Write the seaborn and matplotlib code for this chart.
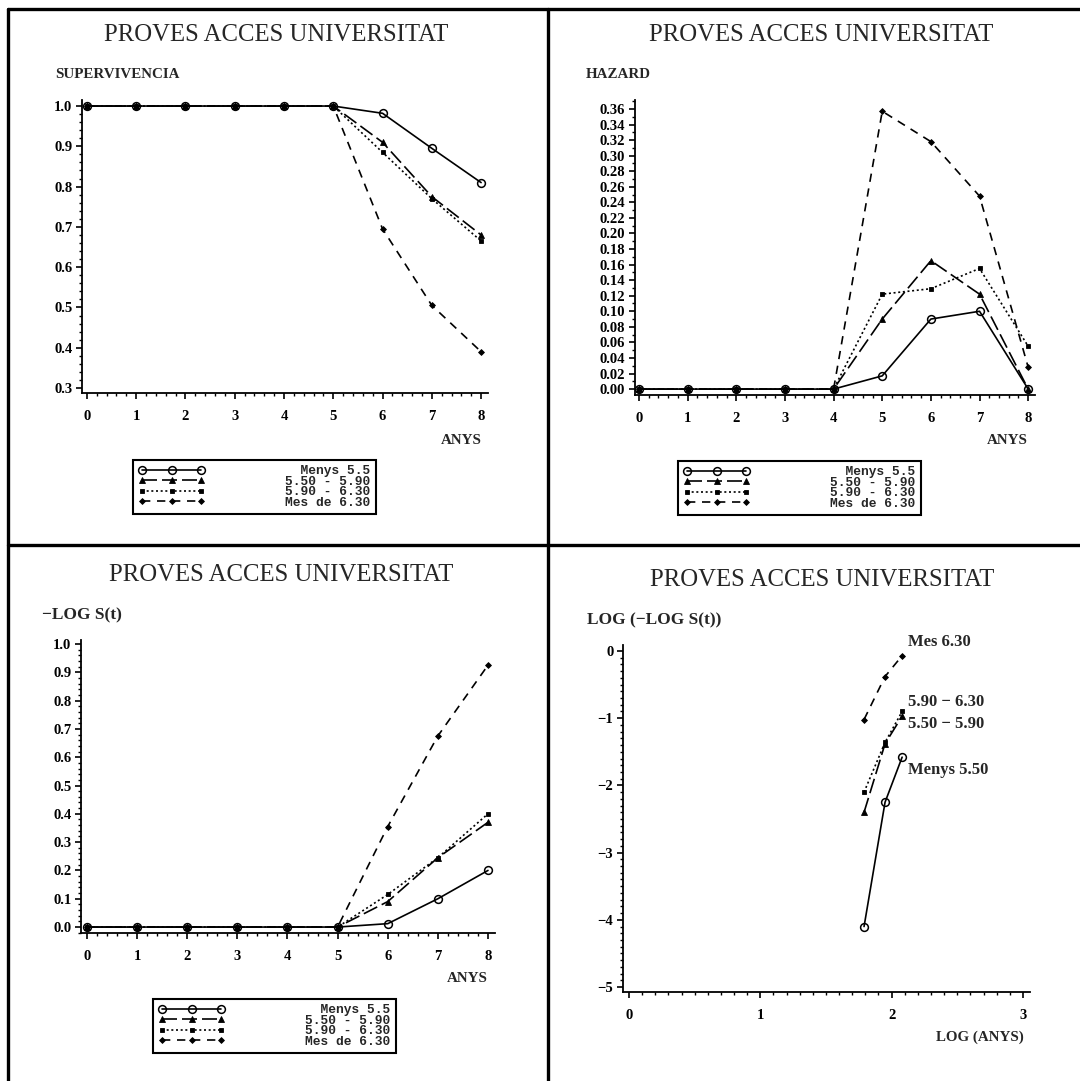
import matplotlib
matplotlib.use("Agg")
import matplotlib.pyplot as plt
import seaborn as sns
from matplotlib.ticker import MultipleLocator, AutoMinorLocator, FormatStrFormatter
from matplotlib.lines import Line2D
from matplotlib.font_manager import FontProperties

# ---------------- data ----------------
anys = [0, 1, 2, 3, 4, 5, 6, 7, 8]
groups = ["Menys 5.5", "5.50 - 5.90", "5.90 - 6.30", "Mes de 6.30"]
legend_labels = ["  Menys 5.5", "5.50 - 5.90", "5.90 - 6.30", "Mes de 6.30"]
end_labels = ["Menys 5.50", "5.50 \u2212 5.90", "5.90 \u2212 6.30", "Mes 6.30"]

surv_menys = [1.0, 1.0, 1.0, 1.0, 1.0, 1.0, 0.982, 0.895, 0.810]
surv_550 = [1.0, 1.0, 1.0, 1.0, 1.0, 1.0, 0.910, 0.775, 0.680]
surv_590 = [1.0, 1.0, 1.0, 1.0, 1.0, 1.0, 0.885, 0.770, 0.665]
surv_mes = [1.0, 1.0, 1.0, 1.0, 1.0, 1.0, 0.695, 0.505, 0.390]

haz_menys = [0.0, 0.0, 0.0, 0.0, 0.0, 0.017, 0.090, 0.100, 0.000]
haz_550 = [0.0, 0.0, 0.0, 0.0, 0.0, 0.090, 0.165, 0.122, 0.000]
haz_590 = [0.0, 0.0, 0.0, 0.0, 0.0, 0.122, 0.129, 0.155, 0.055]
haz_mes = [0.0, 0.0, 0.0, 0.0, 0.0, 0.357, 0.318, 0.248, 0.028]

mlog_menys = [0.0, 0.0, 0.0, 0.0, 0.0, 0.0, 0.012, 0.100, 0.200]
mlog_550 = [0.0, 0.0, 0.0, 0.0, 0.0, 0.0, 0.090, 0.245, 0.370]
mlog_590 = [0.0, 0.0, 0.0, 0.0, 0.0, 0.0, 0.115, 0.245, 0.400]
mlog_mes = [0.0, 0.0, 0.0, 0.0, 0.0, 0.0, 0.355, 0.675, 0.925]

log_anys = [1.79, 1.95, 2.08]
llog_menys = [-4.10, -2.25, -1.58]
llog_550 = [-2.40, -1.38, -0.97]
llog_590 = [-2.10, -1.36, -0.90]
llog_mes = [-1.02, -0.38, -0.07]

# ---------------- style ----------------
sns.set_theme(style="ticks")
plt.rcParams["font.family"] = ["Liberation Serif", "DejaVu Serif"]
plt.rcParams["axes.linewidth"] = 1.3
plt.rcParams["xtick.major.width"] = 1.2
plt.rcParams["ytick.major.width"] = 1.2
plt.rcParams["xtick.minor.width"] = 1.0
plt.rcParams["ytick.minor.width"] = 1.0
plt.rcParams["xtick.major.size"] = 4
plt.rcParams["ytick.major.size"] = 4
plt.rcParams["xtick.minor.size"] = 2.2
plt.rcParams["ytick.minor.size"] = 2.2
plt.rcParams["axes.edgecolor"] = "black"
plt.rcParams["xtick.color"] = "black"
plt.rcParams["ytick.color"] = "black"

W, H = 1080, 1081
fig = plt.figure(figsize=(W / 100, H / 100), dpi=100)
fig.patch.set_facecolor("white")


def fx(px):
    return px / W


def fy(py):
    return 1 - py / H


def make_ax(l, r, t, b):
    return fig.add_axes([fx(l), fy(b), fx(r) - fx(l), fy(t) - fy(b)])


series_style = [
    dict(linestyle="-", marker="o", markersize=5.6, markerfacecolor="none", markeredgewidth=1.1),
    dict(linestyle=(0, (9, 3)), marker="^", markersize=3.8, markerfacecolor="black", markeredgewidth=0.6),
    dict(linestyle=(0, (1.2, 1.6)), marker="s", markersize=3.4, markerfacecolor="black", markeredgewidth=0.6),
    dict(linestyle=(0, (5, 4)), marker="D", markersize=3.0, markerfacecolor="black", markeredgewidth=0.6),
]


def draw_series(ax, x, ys):
    lines = []
    for y, st in zip(ys, series_style):
        sns.lineplot(x=x, y=y, ax=ax, color="black", linewidth=1.2,
                     markeredgecolor="black", **st)
        lines.append(ax.get_lines()[-1])
    return lines


tick_font = dict(family=["Liberation Serif", "DejaVu Serif"], weight="bold", size=10.5)


def style_ax(ax, xlim, ylim, ymajor, yminor_n, xminor_n, fmt):
    sns.despine(ax=ax)
    ax.set_xlim(*xlim)
    ax.set_ylim(*ylim)
    ax.xaxis.set_major_locator(MultipleLocator(1))
    ax.xaxis.set_minor_locator(AutoMinorLocator(xminor_n))
    ax.yaxis.set_major_locator(MultipleLocator(ymajor))
    ax.yaxis.set_minor_locator(AutoMinorLocator(yminor_n))
    ax.yaxis.set_major_formatter(FormatStrFormatter(fmt))
    ax.tick_params(which="both", direction="out")
    ax.tick_params(axis="x", which="major", pad=8)
    ax.tick_params(axis="y", which="major", pad=3)
    for lab in ax.get_xticklabels() + ax.get_yticklabels():
        lab.set_fontproperties(FontProperties(**tick_font))
    ax.set_xlabel("")
    ax.set_ylabel("")
    ax.set_facecolor("white")


def add_legend(ax, lines, left, top):
    leg = ax.legend(lines, legend_labels, loc="upper left",
                    bbox_to_anchor=(fx(left), fy(top)), bbox_transform=fig.transFigure,
                    numpoints=3, handlelength=5.2, handletextpad=6.2,
                    labelspacing=-0.12, borderpad=0.4, borderaxespad=0,
                    frameon=True, fancybox=False, framealpha=1,
                    prop=FontProperties(family="Liberation Mono", weight="bold", size=9.3))
    fr = leg.get_frame()
    fr.set_edgecolor("black")
    fr.set_linewidth(1.5)
    return leg


title_kw = dict(family=["Liberation Serif", "DejaVu Serif"], size=17.8, ha="center", va="center")
sub_kw = dict(family=["Liberation Serif", "DejaVu Serif"], size=10.8, weight="bold", va="center")

# ---------------- panel 1: survival ----------------
ax1 = make_ax(82, 488, 100, 393)
l1 = draw_series(ax1, anys, [surv_menys, surv_550, surv_590, surv_mes])
style_ax(ax1, (-0.10, 8.14), (0.2876, 1.015), 0.1, 5, 5, "%.1f")
add_legend(ax1, l1, 133, 460)
fig.text(fx(276), fy(35), "PROVES ACCES UNIVERSITAT", **title_kw)
fig.text(fx(55), fy(75), "SUPERVIVENCIA", ha="left", **sub_kw)
fig.text(fx(482), fy(440), "ANYS", ha="right", **sub_kw)

# ---------------- panel 2: hazard ----------------
ax2 = make_ax(635, 1035, 100, 395)
l2 = draw_series(ax2, anys, [haz_menys, haz_550, haz_590, haz_mes])
style_ax(ax2, (-0.082, 8.14), (-0.0076, 0.3715), 0.02, 2, 5, "%.2f")
add_legend(ax2, l2, 678, 461)
fig.text(fx(821), fy(35), "PROVES ACCES UNIVERSITAT", **title_kw)
fig.text(fx(586), fy(75), "HAZARD", ha="left", **sub_kw)
fig.text(fx(1028), fy(440), "ANYS", ha="right", **sub_kw)

# ---------------- panel 3: -log S(t) ----------------
ax3 = make_ax(81, 495, 640, 933)
l3 = draw_series(ax3, anys, [mlog_menys, mlog_550, mlog_590, mlog_mes])
style_ax(ax3, (-0.12, 8.14), (-0.021, 1.014), 0.1, 5, 5, "%.1f")
add_legend(ax3, l3, 153, 999)
fig.text(fx(281), fy(575), "PROVES ACCES UNIVERSITAT", **title_kw)
fig.text(fx(42), fy(615), "\u2212LOG S(t)", ha="left",
         family=["Liberation Serif", "DejaVu Serif"], size=12.5, weight="bold", va="center")
fig.text(fx(488), fy(979), "ANYS", ha="right", **sub_kw)

# ---------------- panel 4: log(-log S(t)) ----------------
ax4 = make_ax(623, 1030, 645, 992)
l4 = draw_series(ax4, log_anys, [llog_menys, llog_550, llog_590, llog_mes])
style_ax(ax4, (-0.046, 3.054), (-5.074, 0.089), 1, 10, 10, "%d")
ax4.yaxis.set_major_formatter(plt.FuncFormatter(lambda v, p: f"{int(round(v))}".replace("-", "\u2212")))
for lab in ax4.get_yticklabels():
    lab.set_fontproperties(FontProperties(**tick_font))
fig.text(fx(822), fy(580), "PROVES ACCES UNIVERSITAT", **title_kw)
fig.text(fx(587), fy(620), "LOG (\u2212LOG S(t))", ha="left",
         family=["Liberation Serif", "DejaVu Serif"], size=12.5, weight="bold", va="center")
fig.text(fx(1024), fy(1037), "LOG (ANYS)", ha="right", **sub_kw)

end_y = [770, 724, 702, 642]
for lab, yy in zip(end_labels, end_y):
    fig.text(fx(908), fy(yy), lab, ha="left", va="center",
             family=["Liberation Serif", "DejaVu Serif"], size=12, weight="bold")

# ---------------- frame lines ----------------
frame_kw = dict(color="black", linewidth=2.4, transform=fig.transFigure)
fig.add_artist(Line2D([fx(8), fx(1080)], [fy(9), fy(9)], **frame_kw))
fig.add_artist(Line2D([fx(8), fx(8)], [fy(9), fy(1081)], **frame_kw))
fig.add_artist(Line2D([fx(548), fx(548)], [fy(9), fy(1081)], **frame_kw))
fig.add_artist(Line2D([fx(8), fx(1080)], [fy(545), fy(545)], **frame_kw))

fig.savefig("out.png", dpi=100, facecolor="white")
